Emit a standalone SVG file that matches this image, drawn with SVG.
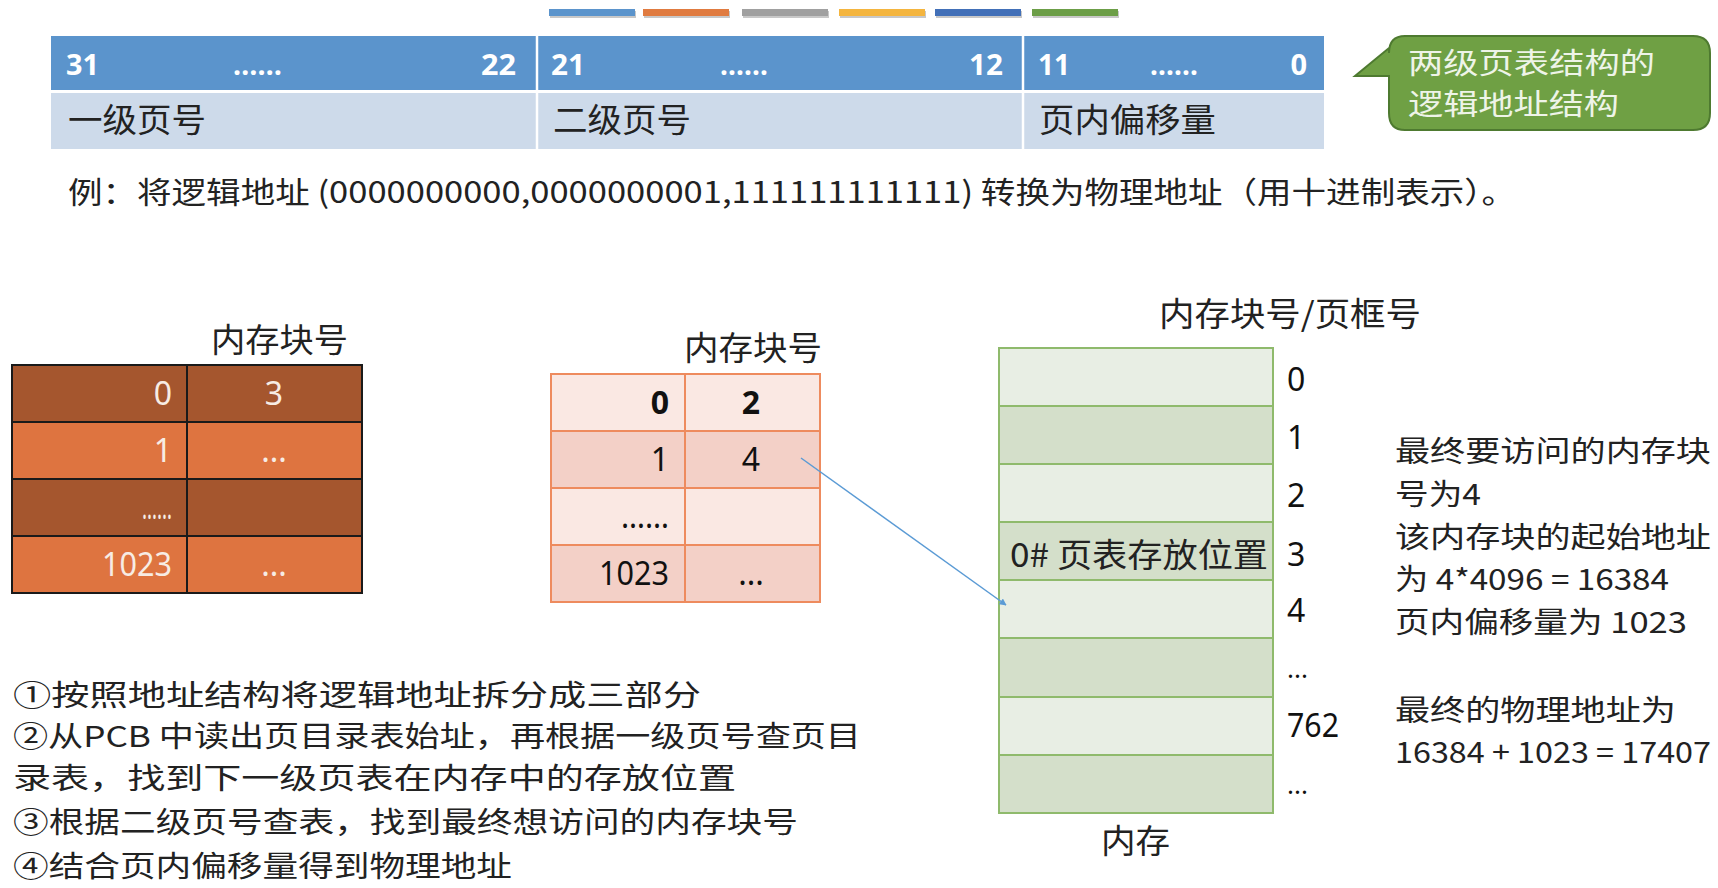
<svg xmlns="http://www.w3.org/2000/svg" width="1718" height="888" viewBox="0 0 1718 888">
<style>
text{font-family:"Noto Sans","Noto Sans CJK SC",sans-serif;}
.cjk{font-family:"Noto Sans CJK SC","Noto Sans",sans-serif;font-size:33px;fill:#222;}
.sm{font-size:29px;}
.hn{font-size:29px;font-weight:bold;fill:#fff;}
.lt{font-size:32px;fill:#f7ece4;}
.mt{font-size:32px;fill:#111;}
.ml{font-size:32px;fill:#111;}
.b{font-weight:bold;}
</style>
<defs>
<marker id="ah" viewBox="0 0 10 10" refX="9" refY="5" markerWidth="7" markerHeight="7" orient="auto" markerUnits="userSpaceOnUse">
<path d="M0,0 L10,5 L0,10 z" fill="#5B9BD5"/>
</marker>
</defs>
<rect width="1718" height="888" fill="#fff"/>

<g id="colorbars">
<rect x="550" y="11" width="86" height="7" fill="#c8c8c8"/>
<rect x="549" y="9" width="86" height="7" fill="#5B94CC"/>
<rect x="644" y="11" width="86" height="7" fill="#c8c8c8"/>
<rect x="643" y="9" width="86" height="7" fill="#E07B40"/>
<rect x="743" y="11" width="86" height="7" fill="#c8c8c8"/>
<rect x="742" y="9" width="86" height="7" fill="#A0A0A0"/>
<rect x="840" y="11" width="86" height="7" fill="#c8c8c8"/>
<rect x="839" y="9" width="86" height="7" fill="#F4B53F"/>
<rect x="936" y="11" width="86" height="7" fill="#c8c8c8"/>
<rect x="935" y="9" width="86" height="7" fill="#4270B8"/>
<rect x="1033" y="11" width="86" height="7" fill="#c8c8c8"/>
<rect x="1032" y="9" width="86" height="7" fill="#6C9E47"/>
</g>

<g id="address-structure">
<rect x="51" y="36" width="1273" height="54" fill="#5B94CC"/>
<rect x="51" y="93" width="1273" height="56" fill="#CDDAEA"/>
<line x1="537" y1="36" x2="537" y2="149" stroke="#fff" stroke-width="2.5"/>
<line x1="1023" y1="36" x2="1023" y2="149" stroke="#fff" stroke-width="2.5"/>
<text class="hn" x="66" y="75" textLength="33" lengthAdjust="spacingAndGlyphs">31</text>
<text class="hn" x="233" y="75" textLength="49" lengthAdjust="spacingAndGlyphs">……</text>
<text class="hn" x="516" y="75" text-anchor="end" textLength="35" lengthAdjust="spacingAndGlyphs">22</text>
<text class="hn" x="551" y="75" textLength="34" lengthAdjust="spacingAndGlyphs">21</text>
<text class="hn" x="720" y="75" textLength="48" lengthAdjust="spacingAndGlyphs">……</text>
<text class="hn" x="1003" y="75" text-anchor="end" textLength="34" lengthAdjust="spacingAndGlyphs">12</text>
<text class="hn" x="1038" y="75" textLength="32" lengthAdjust="spacingAndGlyphs">11</text>
<text class="hn" x="1150" y="75" textLength="48" lengthAdjust="spacingAndGlyphs">……</text>
<text class="hn" x="1307" y="75" text-anchor="end">0</text>
<text class="cjk" x="68" y="132" textLength="138" lengthAdjust="spacingAndGlyphs">一级页号</text>
<text class="cjk" x="553" y="132" textLength="138" lengthAdjust="spacingAndGlyphs">二级页号</text>
<text class="cjk" x="1039" y="132" textLength="177" lengthAdjust="spacingAndGlyphs">页内偏移量</text>
</g>

<g id="callout">
<path d="M1405,36 H1693 Q1710,36 1710,53 V113 Q1710,130 1693,130 H1405 Q1389,130 1389,113 V76 L1355,76 L1389,48 V53 Q1389,36 1405,36 Z" fill="#6FA044" stroke="#4E7A30" stroke-width="2"/>
<text class="cjk sm" x="1408" y="74" style="fill:#EEF4E8" textLength="247" lengthAdjust="spacingAndGlyphs">两级页表结构的</text>
<text class="cjk sm" x="1408" y="115" style="fill:#EEF4E8" textLength="211" lengthAdjust="spacingAndGlyphs">逻辑地址结构</text>
</g>

<g id="example">
<text class="cjk" x="68" y="203" style="font-size:30px" textLength="1448" lengthAdjust="spacingAndGlyphs">例：将逻辑地址 (0000000000,0000000001,111111111111) 转换为物理地址（用十进制表示）。</text>
</g>

<g id="page-directory">
<text class="cjk" x="211" y="352" textLength="137" lengthAdjust="spacingAndGlyphs">内存块号</text>
<rect x="12" y="365" width="350" height="57" fill="#A5562E"/>
<rect x="12" y="422" width="350" height="57" fill="#DE7440"/>
<rect x="12" y="479" width="350" height="57" fill="#A5562E"/>
<rect x="12" y="536" width="350" height="57" fill="#DE7440"/>
<g stroke="#1a1a1a" stroke-width="2" fill="none">
<rect x="12" y="365" width="350" height="228"/>
<line x1="12" y1="422" x2="362" y2="422"/>
<line x1="12" y1="479" x2="362" y2="479"/>
<line x1="12" y1="536" x2="362" y2="536"/>
<line x1="187" y1="365" x2="187" y2="593"/>
</g>
<text class="lt" x="172" y="405" text-anchor="end">0</text>
<text class="lt" x="274" y="405" text-anchor="middle">3</text>
<text class="lt" x="172" y="462" text-anchor="end">1</text>
<text class="lt" x="274" y="462" text-anchor="middle">...</text>
<text class="lt" x="172" y="519" text-anchor="end" textLength="30" lengthAdjust="spacingAndGlyphs">……</text>
<text class="lt" x="172" y="576" text-anchor="end" textLength="70" lengthAdjust="spacingAndGlyphs">1023</text>
<text class="lt" x="274" y="576" text-anchor="middle">...</text>
</g>

<g id="page-table-0">
<text class="cjk" x="684" y="360" textLength="138" lengthAdjust="spacingAndGlyphs">内存块号</text>
<rect x="551" y="374" width="269" height="57" fill="#FAE8E3"/>
<rect x="551" y="431" width="269" height="57" fill="#F3D0C7"/>
<rect x="551" y="488" width="269" height="57" fill="#FAE8E3"/>
<rect x="551" y="545" width="269" height="57" fill="#F3D0C7"/>
<g stroke="#EE8B5E" stroke-width="2" fill="none">
<rect x="551" y="374" width="269" height="228"/>
<line x1="551" y1="431" x2="820" y2="431"/>
<line x1="551" y1="488" x2="820" y2="488"/>
<line x1="551" y1="545" x2="820" y2="545"/>
<line x1="685" y1="374" x2="685" y2="602"/>
</g>
<text class="mt b" x="669" y="414" text-anchor="end">0</text>
<text class="mt b" x="751" y="414" text-anchor="middle">2</text>
<text class="mt" x="669" y="471" text-anchor="end">1</text>
<text class="mt" x="751" y="471" text-anchor="middle">4</text>
<text class="mt" x="669" y="528" text-anchor="end" textLength="48" lengthAdjust="spacingAndGlyphs">……</text>
<text class="mt" x="669" y="585" text-anchor="end" textLength="70" lengthAdjust="spacingAndGlyphs">1023</text>
<text class="mt" x="751" y="585" text-anchor="middle">...</text>
</g>

<g id="memory">
<text class="cjk" x="1159" y="326" textLength="262" lengthAdjust="spacingAndGlyphs">内存块号/页框号</text>
<rect x="999" y="348" width="274" height="58" fill="#E8EEE4"/>
<rect x="999" y="406" width="274" height="58" fill="#D4DFCA"/>
<rect x="999" y="464" width="274" height="58" fill="#E8EEE4"/>
<rect x="999" y="522" width="274" height="58" fill="#D4DFCA"/>
<rect x="999" y="580" width="274" height="58" fill="#E8EEE4"/>
<rect x="999" y="638" width="274" height="59" fill="#D4DFCA"/>
<rect x="999" y="697" width="274" height="58" fill="#E8EEE4"/>
<rect x="999" y="755" width="274" height="58" fill="#D4DFCA"/>
<g stroke="#8FBA6C" stroke-width="2" fill="none">
<rect x="999" y="348" width="274" height="465"/>
<line x1="999" y1="406" x2="1273" y2="406"/>
<line x1="999" y1="464" x2="1273" y2="464"/>
<line x1="999" y1="522" x2="1273" y2="522"/>
<line x1="999" y1="580" x2="1273" y2="580"/>
<line x1="999" y1="638" x2="1273" y2="638"/>
<line x1="999" y1="697" x2="1273" y2="697"/>
<line x1="999" y1="755" x2="1273" y2="755"/>
</g>
<text class="cjk" x="1010" y="567" textLength="258" lengthAdjust="spacingAndGlyphs">0# 页表存放位置</text>
<text class="ml" x="1287" y="391">0</text>
<text class="ml" x="1287" y="449">1</text>
<text class="ml" x="1287" y="507">2</text>
<text class="ml" x="1287" y="566">3</text>
<text class="ml" x="1287" y="622">4</text>
<text class="ml" x="1287" y="678" style="font-size:26px">...</text>
<text class="ml" x="1287" y="737" textLength="52" lengthAdjust="spacingAndGlyphs">762</text>
<text class="ml" x="1287" y="794" style="font-size:26px">...</text>
<text class="cjk" x="1101" y="853" textLength="69" lengthAdjust="spacingAndGlyphs">内存</text>
</g>

<g id="explanation">
<text class="cjk sm" x="1395" y="462" textLength="316" lengthAdjust="spacingAndGlyphs">最终要访问的内存块</text>
<text class="cjk sm" x="1395" y="505" textLength="86" lengthAdjust="spacingAndGlyphs">号为4</text>
<text class="cjk sm" x="1395" y="548" textLength="316" lengthAdjust="spacingAndGlyphs">该内存块的起始地址</text>
<text class="cjk sm" x="1395" y="590" textLength="274" lengthAdjust="spacingAndGlyphs">为 4*4096 = 16384</text>
<text class="cjk sm" x="1395" y="633" textLength="292" lengthAdjust="spacingAndGlyphs">页内偏移量为 1023</text>
<text class="cjk sm" x="1395" y="721" textLength="281" lengthAdjust="spacingAndGlyphs">最终的物理地址为</text>
<text class="cjk sm" x="1395" y="763" textLength="316" lengthAdjust="spacingAndGlyphs">16384 + 1023 = 17407</text>
</g>

<g id="steps">
<text class="cjk sm" x="13" y="706" textLength="688" lengthAdjust="spacingAndGlyphs">①按照地址结构将逻辑地址拆分成三部分</text>
<text class="cjk sm" x="13" y="747" textLength="848" lengthAdjust="spacingAndGlyphs">②从PCB 中读出页目录表始址，再根据一级页号查页目</text>
<text class="cjk sm" x="13" y="789" textLength="723" lengthAdjust="spacingAndGlyphs">录表，找到下一级页表在内存中的存放位置</text>
<text class="cjk sm" x="13" y="833" textLength="785" lengthAdjust="spacingAndGlyphs">③根据二级页号查表，找到最终想访问的内存块号</text>
<text class="cjk sm" x="13" y="877" textLength="499" lengthAdjust="spacingAndGlyphs">④结合页内偏移量得到物理地址</text>
</g>

<g id="connectors">
<line x1="801" y1="458" x2="1006" y2="605" stroke="#5B9BD5" stroke-width="1.5" marker-end="url(#ah)"/>
</g>
</svg>
